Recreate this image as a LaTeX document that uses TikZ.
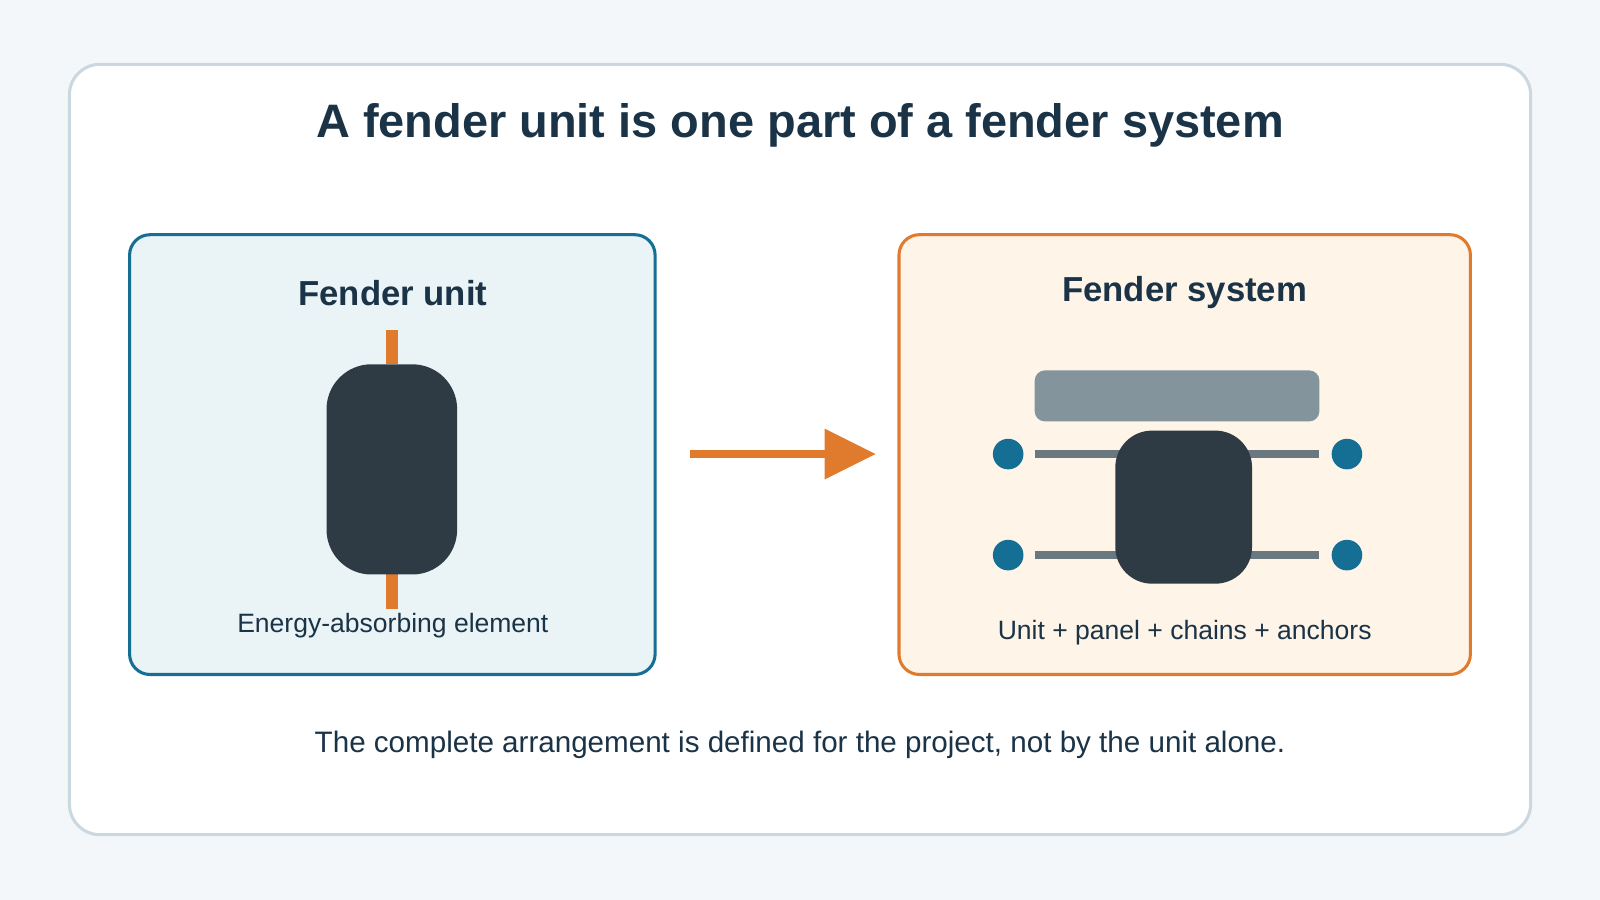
\documentclass[tikz,border=0pt]{standalone}
\usepackage{fontspec}
\setmainfont{Liberation Sans}
\definecolor{bg}{HTML}{F3F7FA}
\definecolor{frame}{HTML}{CBD8E0}
\definecolor{ink}{HTML}{1B3347}
\definecolor{blue}{HTML}{156F94}
\definecolor{lblue}{HTML}{EAF3F6}
\definecolor{orange}{HTML}{E07B2E}
\definecolor{lorange}{HTML}{FEF4E8}
\definecolor{dark}{HTML}{2F3B44}
\definecolor{panel}{HTML}{84949C}
\definecolor{chain}{HTML}{6A7880}
\begin{document}
\begin{tikzpicture}[x=0.5pt,y=-0.5pt,
  ttl/.style={font=\bfseries\fontsize{17}{20}\selectfont,text=ink},
  captxt/.style={font=\fontsize{13}{16}\selectfont,text=ink},
  chainl/.style={draw=chain,line width=4pt},
  anchordot/.style={circle,fill=blue,minimum size=15pt,inner sep=0pt}]
\fill[bg] (0,0) rectangle (1568,882);
\useasboundingbox (0,0) rectangle (1568,882);
\draw[frame,fill=white,line width=1.5pt,rounded corners=15pt] (68,63) rectangle (1500,818);
\node[font=\bfseries\fontsize{23}{28}\selectfont,text=ink] (title) at (784,123) {A fender unit is one part of a fender system};
% left box
\draw[blue,fill=lblue,line width=1.5pt,rounded corners=10pt] (127,230) rectangle (642,661);
\node[ttl] (lt) at (385,287) {Fender unit};
\fill[orange] (378,323) rectangle (390,357);
\fill[orange] (378,563) rectangle (390,597);
\fill[dark,rounded corners=22pt] (320,357) rectangle (448,563);
\node[captxt] (lc) at (385,613) {Energy-absorbing element};
% arrow
\coordinate (a1) at (676,445);
\coordinate (a2) at (812,445);
\draw[orange,line width=4pt] (a1) -- (a2);
\fill[orange] (808,420) -- (858,445) -- (808,470) -- cycle;
% right box
\draw[orange,fill=lorange,line width=1.5pt,rounded corners=10pt] (881,230) rectangle (1441,661);
\node[ttl] (rt) at (1161,287) {Fender system};
\fill[panel,rounded corners=5pt] (1014,363) rectangle (1293,413);
\node[anchordot] (n1) at (988,445) {};
\node[anchordot] (n2) at (1320,445) {};
\node[anchordot] (n3) at (988,544) {};
\node[anchordot] (n4) at (1320,544) {};
\draw[chainl] (1014,445) -- (1100,445);
\draw[chainl] (1220,445) -- (1293,445);
\draw[chainl] (1014,544) -- (1100,544);
\draw[chainl] (1220,544) -- (1293,544);
\fill[dark,rounded corners=18pt] (1093,422) rectangle (1227,572);
\node[captxt] (rc) at (1161,620) {Unit + panel + chains + anchors};
\node[font=\fontsize{14.5}{18}\selectfont,text=ink] (foot) at (784,730) {The complete arrangement is defined for the project, not by the unit alone.};
\end{tikzpicture}
\end{document}
